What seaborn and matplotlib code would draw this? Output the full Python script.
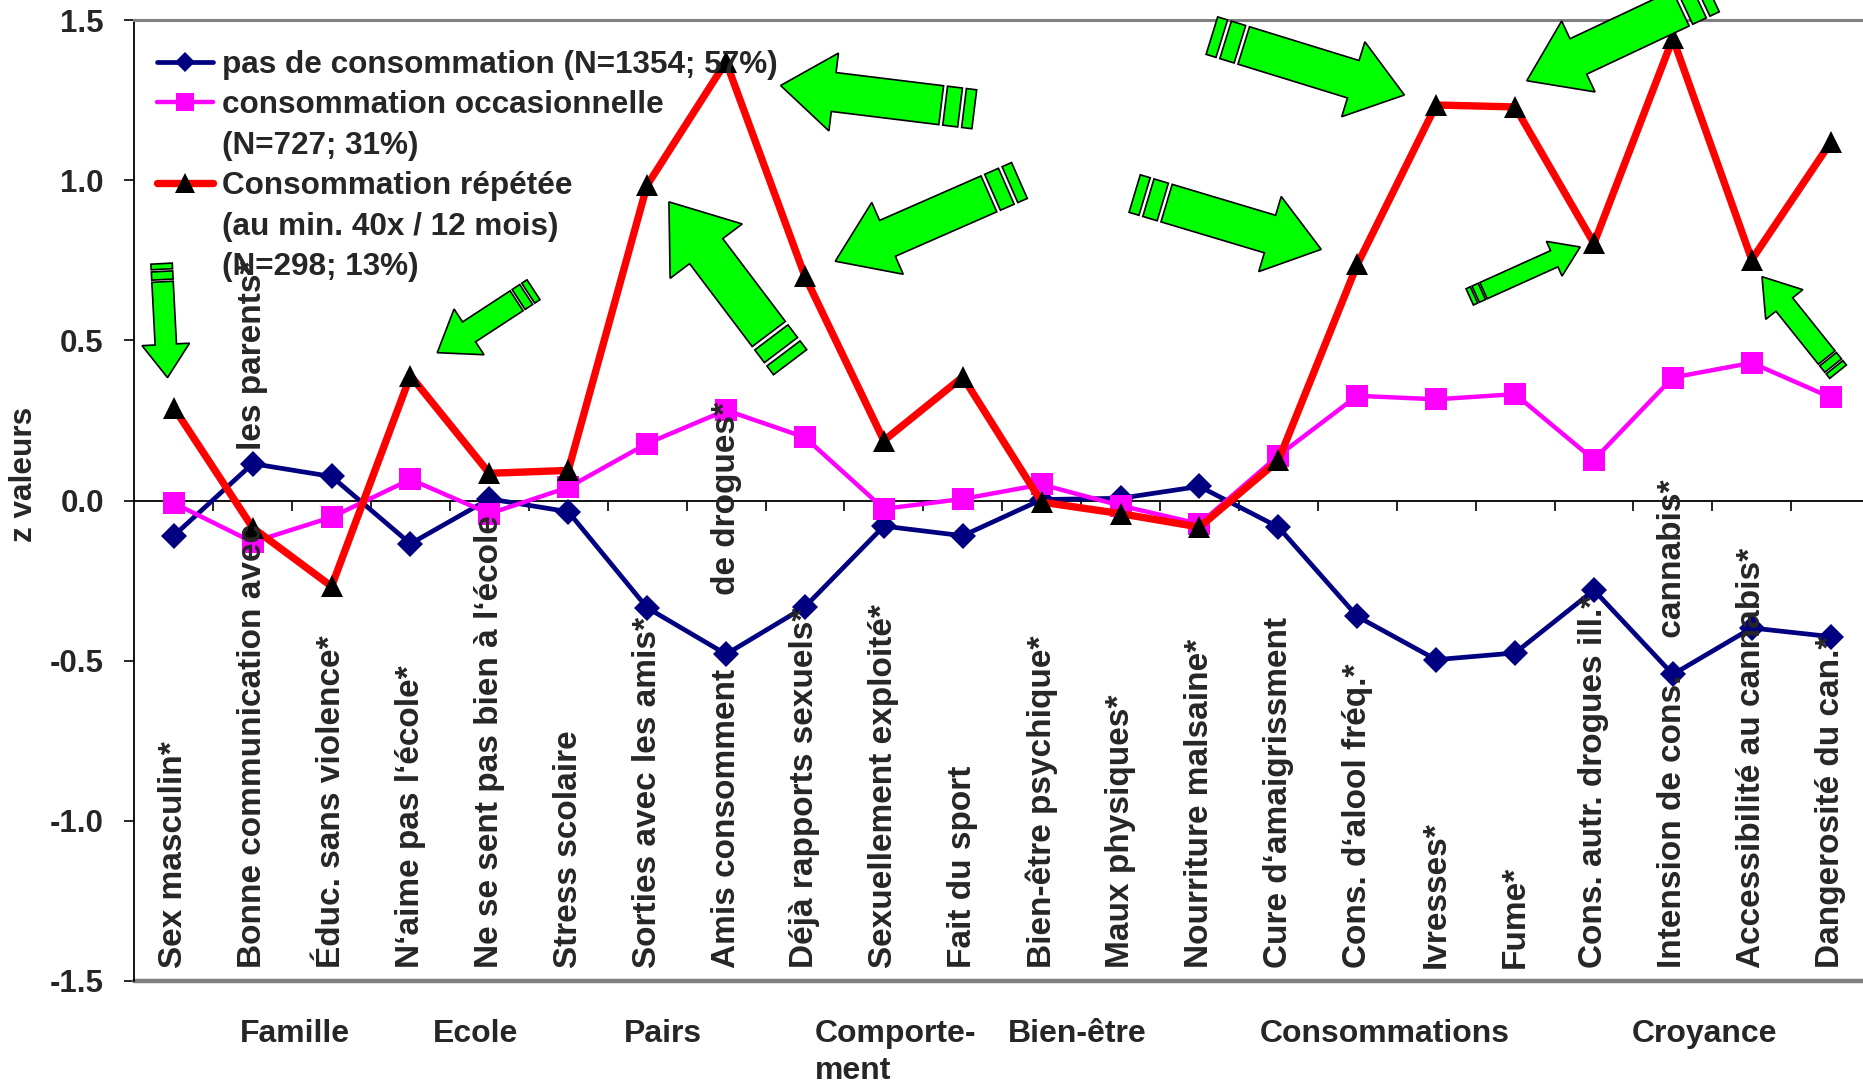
import numpy as np
import pandas as pd
import matplotlib
matplotlib.use("Agg")
import matplotlib.pyplot as plt
import seaborn as sns
from matplotlib.lines import Line2D
from matplotlib.patches import Polygon
from matplotlib.transforms import Affine2D

# ---------------- data ----------------
categories = [
    "Sex masculin*",
    "Bonne communication avec        les parents*",
    "Éduc. sans violence*",
    "N\u2018aime pas l\u2018école*",
    "Ne se sent pas bien à l\u2018école",
    "Stress scolaire",
    "Sorties avec les amis*",
    "Amis consomment        de drogues*",
    "Déjà rapports sexuels*",
    "Sexuellement exploité*",
    "Fait du sport",
    "Bien-être psychique*",
    "Maux physiques*",
    "Nourriture malsaine*",
    "Cure d\u2018amaigrissment",
    "Cons. d\u2018alool fréq.*",
    "Ivresses*",
    "Fume*",
    "Cons. autr. drogues ill.*",
    "Intension de cons.    cannabis*",
    "Accessibilité au cannabis*",
    "Dangerosité du can.*",
]
no_use = [-0.11, 0.115, 0.075, -0.135, 0.005, -0.035, -0.335, -0.48, -0.332, -0.08,
          -0.11, 0.003, 0.007, 0.044, -0.083, -0.362, -0.497, -0.476, -0.28, -0.543,
          -0.398, -0.425]
occasional = [-0.008, -0.13, -0.052, 0.066, -0.041, 0.041, 0.178, 0.282, 0.197, -0.026,
              0.005, 0.05, -0.016, -0.073, 0.14, 0.327, 0.316, 0.332, 0.127, 0.384,
              0.43, 0.322]
repeated = [0.29, -0.085, -0.268, 0.39, 0.085, 0.094, 0.985, 1.37, 0.70, 0.187,
            0.386, -0.005, -0.041, -0.083, 0.125, 0.737, 1.235, 1.229, 0.803, 1.443,
            0.752, 1.118]
series_labels = ["pas de consommation (N=1354; 57%)",
                 "consommation occasionnelle", "(N=727; 31%)",
                 "Consommation répétée", "(au min. 40x / 12 mois)", "(N=298; 13%)"]
groups = ["Famille", "Ecole", "Pairs", "Comporte-\nment", "Bien-être",
          "Consommations", "Croyance"]
y_ticks = [-1.5, -1.0, -0.5, 0.0, 0.5, 1.0, 1.5]

# ---------------- style ----------------
sns.set_style("white")
plt.rcParams["font.family"] = ["Liberation Sans", "DejaVu Sans"]
plt.rcParams["font.weight"] = "bold"

W, H = 1863, 1083
fig = plt.figure(figsize=(W / 100, H / 100), dpi=100)
ax = fig.add_axes([0.0721, 0.0943, 0.9279, 0.8871])

x = np.arange(len(categories))
df = pd.DataFrame({"x": x, "no": no_use, "occ": occasional, "rep": repeated})

sns.lineplot(data=df, x="x", y="no", ax=ax, color="#000080", linewidth=3.4,
             marker="D", markersize=13, markeredgewidth=0, zorder=3)
sns.lineplot(data=df, x="x", y="occ", ax=ax, color="#FF00FF", linewidth=3.2,
             marker="s", markersize=15.5, markeredgewidth=0, zorder=4)
sns.lineplot(data=df, x="x", y="rep", ax=ax, color="#FF0000", linewidth=5.3,
             marker="^", markersize=15.5, markerfacecolor="black",
             markeredgecolor="black", markeredgewidth=0, zorder=5)

ax.set_xlim(-0.5, 21.41)
ax.set_ylim(-1.5, 1.5)

# axes styling: category axis crossing at 0
ax.spines["right"].set_visible(False)
ax.spines["top"].set_color("#808080")
ax.spines["top"].set_linewidth(2.2)
ax.spines["left"].set_color("black")
ax.spines["left"].set_linewidth(1.3)
ax.spines["bottom"].set_position(("data", 0))
ax.spines["bottom"].set_color("black")
ax.spines["bottom"].set_linewidth(1.3)
ax.axhline(-1.5, color="#808080", linewidth=3.2, zorder=2, clip_on=False)

ax.set_xticks(x[:-1] + 0.5)
ax.set_xticklabels([])
ax.tick_params(axis="x", direction="out", length=7, width=1.2, color="black",
               bottom=True)
ax.set_yticks(y_ticks)
ax.set_yticklabels([f"{v:.1f}" for v in y_ticks], fontsize=22.5, fontweight="bold")
ax.tick_params(axis="y", direction="out", length=7, width=1.2, color="black",
               pad=15, left=True)
ax.set_xlabel("")
ax.set_ylabel("z valeurs", fontsize=22.7, fontweight="bold")
ax.yaxis.set_label_coords(-0.055, 0.527)

# category labels at the bottom of the plot area
for i, cat in enumerate(categories):
    ax.text(i, -1.46, cat, rotation=90, ha="center", va="bottom",
            fontsize=24, fontweight="bold", zorder=6)

# group labels below
group_pos = [(1.54, "center"), (3.83, "center"), (6.2, "center"), (8.12, "left"),
             (11.45, "center"), (15.35, "center"), (19.4, "center")]
for g, (gx, ha) in zip(groups, group_pos):
    ax.text(gx, -1.62, g, ha=ha, va="top", fontsize=23, fontweight="bold",
            linespacing=1.3, clip_on=False)

# legend
h_no = Line2D([], [], color="#000080", lw=3.4, marker="D", markersize=10, mew=0)
h_occ = Line2D([], [], color="#FF00FF", lw=3.2, marker="s", markersize=13, mew=0)
h_rep = Line2D([], [], color="#FF0000", lw=5.3, marker="^", markersize=14,
               markerfacecolor="black", mew=0)
blank = Line2D([], [], linestyle="none")
leg = ax.legend([h_no, h_occ, blank, h_rep, blank, blank], series_labels,
                loc="upper left", bbox_to_anchor=(0.0131, 0.969), frameon=False,
                handlelength=1.78, handletextpad=0.29, labelspacing=0.33,
                borderaxespad=0, borderpad=0,
                prop={"size": 22.7, "weight": "bold"})
leg.set_zorder(7)

# decorative green block arrows (reference-pixel space 1568 x 912)
T = Affine2D().scale(1 / 1568, -1 / 912).translate(0, 1) + fig.transFigure


def block_arrow(tip, tail_end, bw, hw, hl):
    tip = np.array(tip, float)
    tail_end = np.array(tail_end, float)
    d = tip - tail_end
    u = d / np.hypot(*d)
    n = np.array([-u[1], u[0]])
    s = 0.85 * bw
    body_start = tail_end + u * s
    base = tip - u * hl
    body = [body_start + n * bw / 2, base + n * bw / 2, base + n * hw / 2, tip,
            base - n * hw / 2, base - n * bw / 2, body_start - n * bw / 2]
    g, a, b = 0.12 * s, 0.45 * s, 0.31 * s
    p0 = body_start - u * g
    p1 = p0 - u * a
    p2 = p1 - u * g
    p3 = p2 - u * b
    polys = [body,
             [p0 + n * bw / 2, p1 + n * bw / 2, p1 - n * bw / 2, p0 - n * bw / 2],
             [p2 + n * bw / 2, p3 + n * bw / 2, p3 - n * bw / 2, p2 - n * bw / 2]]
    for pts in polys:
        fig.add_artist(Polygon(pts, closed=True, transform=T, facecolor="#00FF00",
                               edgecolor="black", linewidth=1.2, zorder=8))


arrows = [
    ((141, 318), (136, 222), 18, 40, 28),
    ((368, 297), (449, 244), 20, 46, 32),
    ((563, 170), (665, 305), 35, 76, 52),
    ((657, 72), (820, 92), 33, 66, 45),
    ((703, 220), (858, 152), 33, 66, 48),
    ((1112, 210), (955, 163), 33, 66, 45),
    ((1182, 80), (1020, 30), 33, 66, 45),
    ((1285, 68), (1440, -5), 33, 66, 48),
    ((1330, 208), (1237, 250), 15, 32, 24),
    ((1483, 233), (1547, 313), 18, 40, 30),
]
for a in arrows:
    block_arrow(*a)

fig.savefig("out.png", dpi=100)
